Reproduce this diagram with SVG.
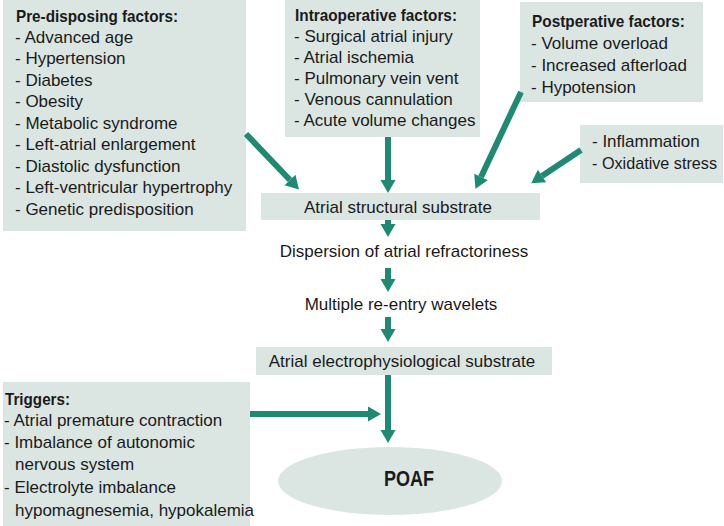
<svg xmlns="http://www.w3.org/2000/svg" width="724" height="526" viewBox="0 0 724 526">
<style>
  .box { fill: #dbe6e3; }
  .t { font-family: "Liberation Sans Narrow", "Liberation Sans", Arial, sans-serif; font-size: 17px; fill: #1a1a1a; }
  .h { font-weight: bold; }
  .c { text-anchor: middle; }
  .conn line { stroke: #1e8a73; stroke-width: 6; fill: none; marker-end: url(#ah); }
</style>
<defs>
  <marker id="ah" markerUnits="userSpaceOnUse" markerWidth="14" markerHeight="16" refX="0" refY="7.5" orient="auto" overflow="visible">
    <path d="M0,0 L13,7.5 L0,15 Z" fill="#1e8a73"/>
  </marker>
</defs>
<rect width="724" height="526" fill="#ffffff"/>

<g id="predisposing">
  <rect class="box" x="3" y="0" width="243" height="231"/>
  <text class="t h" x="16" y="22" textLength="162" lengthAdjust="spacingAndGlyphs">Pre-disposing factors:</text>
  <text class="t" x="15" y="43">- Advanced age</text>
  <text class="t" x="15" y="64">- Hypertension</text>
  <text class="t" x="15" y="86">- Diabetes</text>
  <text class="t" x="15" y="107">- Obesity</text>
  <text class="t" x="15" y="129">- Metabolic syndrome</text>
  <text class="t" x="15" y="150">- Left-atrial enlargement</text>
  <text class="t" x="15" y="172">- Diastolic dysfunction</text>
  <text class="t" x="15" y="193">- Left-ventricular hypertrophy</text>
  <text class="t" x="15" y="215">- Genetic predisposition</text>
</g>

<g id="intraoperative">
  <rect class="box" x="285" y="0" width="195" height="137"/>
  <text class="t h" x="295" y="21" textLength="162" lengthAdjust="spacingAndGlyphs">Intraoperative factors:</text>
  <text class="t" x="294" y="42">- Surgical atrial injury</text>
  <text class="t" x="294" y="63">- Atrial ischemia</text>
  <text class="t" x="294" y="84">- Pulmonary vein vent</text>
  <text class="t" x="294" y="105">- Venous cannulation</text>
  <text class="t" x="294" y="126">- Acute volume changes</text>
</g>

<g id="postoperative">
  <rect class="box" x="520" y="2" width="183" height="100"/>
  <text class="t h" x="532" y="27" textLength="153" lengthAdjust="spacingAndGlyphs">Postperative factors:</text>
  <text class="t" x="531" y="49">- Volume overload</text>
  <text class="t" x="531" y="71">- Increased afterload</text>
  <text class="t" x="531" y="93">- Hypotension</text>
</g>

<g id="inflammation">
  <rect class="box" x="580" y="125" width="143" height="58"/>
  <text class="t" x="592" y="147">- Inflammation</text>
  <text class="t" x="592" y="169" textLength="125" lengthAdjust="spacingAndGlyphs">- Oxidative stress</text>
</g>

<g id="structural">
  <rect class="box" x="261" y="193" width="279" height="27"/>
  <text class="t c" x="398" y="213">Atrial structural substrate</text>
</g>

<g id="dispersion">
  <text class="t c" x="404" y="257">Dispersion of atrial refractoriness</text>
</g>

<g id="reentry">
  <text class="t c" x="401" y="310">Multiple re-entry wavelets</text>
</g>

<g id="electrophysiological">
  <rect class="box" x="256" y="347" width="296" height="28"/>
  <text class="t c" x="402" y="367">Atrial electrophysiological substrate</text>
</g>

<g id="triggers">
  <rect class="box" x="3" y="382" width="247" height="144"/>
  <text class="t h" x="5" y="405" textLength="65" lengthAdjust="spacingAndGlyphs">Triggers:</text>
  <text class="t" x="4" y="426">- Atrial premature contraction</text>
  <text class="t" x="4" y="448">- Imbalance of autonomic</text>
  <text class="t" x="15" y="470">nervous system</text>
  <text class="t" x="4" y="493">- Electrolyte imbalance</text>
  <text class="t" x="15" y="516">hypomagnesemia, hypokalemia</text>
</g>

<g id="poaf">
  <ellipse class="box" cx="390" cy="481" rx="112" ry="34"/>
  <text class="t h" x="384" y="486" style="font-size:22px" textLength="50" lengthAdjust="spacingAndGlyphs">POAF</text>
</g>

<g id="connectors" class="conn">
  <line x1="246" y1="134" x2="290" y2="180"/>
  <line x1="388" y1="137" x2="388" y2="180"/>
  <line x1="521" y1="92" x2="481" y2="177"/>
  <line x1="581" y1="150" x2="542" y2="176"/>
  <line x1="388" y1="220" x2="388" y2="224"/>
  <line x1="388" y1="268" x2="388" y2="279"/>
  <line x1="388" y1="317" x2="388" y2="329"/>
  <line x1="388" y1="375" x2="388" y2="430"/>
  <line x1="250" y1="414" x2="368" y2="414"/>
</g>
</svg>
